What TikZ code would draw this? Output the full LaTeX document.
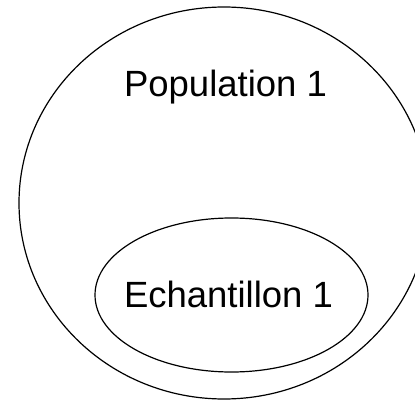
\documentclass[tikz,border=0pt]{standalone}
\usepackage{fontspec}
\setmainfont{Liberation Sans}
\begin{document}
\begin{tikzpicture}[x=1pt,y=1pt,
  shape line/.style={draw=black,line width=1.2pt},
  label text/.style={font=\fontsize{36.5}{42}\selectfont,anchor=base,inner sep=0pt}]
\useasboundingbox (0,0) rectangle (415,-401);
\clip (0,0) rectangle (415,-401);
\fill[white] (0,0) rectangle (415,-401);
\draw[shape line] (224,-203) ellipse [x radius=205, y radius=196];
\draw[shape line] (231.5,-295) ellipse [x radius=136.5, y radius=77];
\node[label text] (pop) at (225.5,-97) {Population 1};
\node[label text] (ech) at (228.5,-307) {Echantillon 1};
\end{tikzpicture}
\end{document}
